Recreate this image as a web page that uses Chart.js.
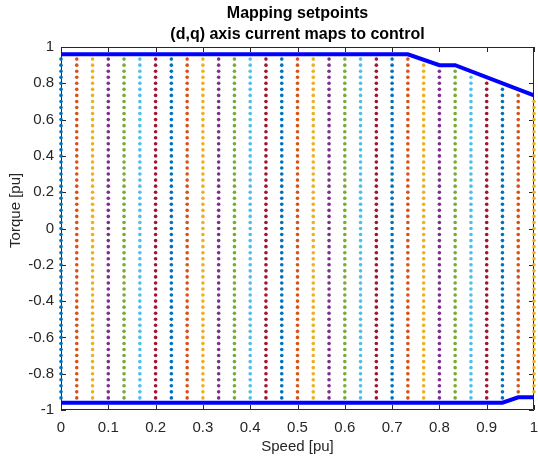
<!DOCTYPE html>
<html lang="en">
<head>
  <meta charset="UTF-8" />
  <title>Mapping setpoints</title>
  <script src="https://cdn.jsdelivr.net/npm/chart.js"></script>
  <style>
    body { margin: 0; background: #fff; }
    #wrap { width: 538px; height: 461px; }
  </style>
</head>
<body>
  <div id="wrap"><canvas id="mapChart"></canvas></div>

  <script>
    // speed columns of the (d,q) current maps [pu]
    const speeds = [0, 0.0333, 0.0667, 0.1, 0.1333, 0.1667, 0.2, 0.2333, 0.2667, 0.3,
      0.3333, 0.3667, 0.4, 0.4333, 0.4667, 0.5, 0.5333, 0.5667, 0.6, 0.6333,
      0.6667, 0.7, 0.7333, 0.7667, 0.8, 0.8333, 0.8667, 0.9, 0.9333, 0.9667, 1];

    // torque setpoint levels [pu]
    const torqueLevels = [-0.9333, -0.9, -0.8667, -0.8333, -0.8, -0.7667, -0.7333, -0.7,
      -0.6667, -0.6333, -0.6, -0.5667, -0.5333, -0.5, -0.4667, -0.4333, -0.4, -0.3667,
      -0.3333, -0.3, -0.2667, -0.2333, -0.2, -0.1667, -0.1333, -0.1, -0.0667, -0.0333, 0,
      0.0333, 0.0667, 0.1, 0.1333, 0.1667, 0.2, 0.2333, 0.2667, 0.3, 0.3333, 0.3667,
      0.4, 0.4333, 0.4667, 0.5, 0.5333, 0.5667, 0.6, 0.6333, 0.6667, 0.7, 0.7333,
      0.7667, 0.8, 0.8333, 0.8667, 0.9, 0.9333];

    // highest / lowest torque setpoint kept in each speed column
    const colMax = [0.9333, 0.9333, 0.9333, 0.9333, 0.9333, 0.9333, 0.9333, 0.9333, 0.9333, 0.9333,
      0.9333, 0.9333, 0.9333, 0.9333, 0.9333, 0.9333, 0.9333, 0.9333, 0.9333, 0.9333,
      0.9333, 0.9333, 0.9333, 0.9, 0.8667, 0.8667, 0.8333, 0.8, 0.7667, 0.7333, 0.7];
    const colMin = [-0.9333, -0.9333, -0.9333, -0.9333, -0.9333, -0.9333, -0.9333, -0.9333, -0.9333, -0.9333,
      -0.9333, -0.9333, -0.9333, -0.9333, -0.9333, -0.9333, -0.9333, -0.9333, -0.9333, -0.9333,
      -0.9333, -0.9333, -0.9333, -0.9333, -0.9333, -0.9333, -0.9333, -0.9333, -0.9333, -0.9, -0.9];

    // torque limit envelopes
    const upperSpeed = [0, 0.7333, 0.8, 0.8333, 1];
    const upperTorque = [0.96, 0.96, 0.9, 0.9, 0.7333];
    const lowerSpeed = [0, 0.9333, 0.9667, 1];
    const lowerTorque = [-0.96, -0.96, -0.93, -0.93];

    const xTicks = [0, 0.1, 0.2, 0.3, 0.4, 0.5, 0.6, 0.7, 0.8, 0.9, 1];
    const yTicks = [-1, -0.8, -0.6, -0.4, -0.2, 0, 0.2, 0.4, 0.6, 0.8, 1];

    const colorOrder = ['#0072BD', '#D95319', '#EDB120', '#7E2F8E', '#77AC30', '#4DBEEE', '#A2142F'];
    const axisColor = '#262626';
    const FONT = '"Liberation Sans", Arial, Helvetica, sans-serif';

    const datasets = [];
    datasets.push({
      type: 'line',
      data: upperSpeed.map((s, i) => ({ x: s, y: upperTorque[i] })),
      borderColor: '#0000FF', borderWidth: 4, pointRadius: 0,
      fill: false, tension: 0, order: 0
    });
    datasets.push({
      type: 'line',
      data: lowerSpeed.map((s, i) => ({ x: s, y: lowerTorque[i] })),
      borderColor: '#0000FF', borderWidth: 4, pointRadius: 0,
      fill: false, tension: 0, order: 0
    });
    speeds.forEach((s, i) => {
      const pts = torqueLevels
        .filter(t => t <= colMax[i] + 1e-6 && t >= colMin[i] - 1e-6)
        .map(t => ({ x: s, y: t }));
      datasets.push({
        type: 'scatter',
        data: pts,
        backgroundColor: colorOrder[i % colorOrder.length],
        borderWidth: 0,
        pointRadius: 1.8,
        clip: 4,
        order: 1
      });
    });

    // MATLAB style box with inward ticks on all four sides, plus the y label
    const boxTicks = {
      id: 'boxTicks',
      beforeDatasetsDraw(chart) {
        const { ctx, chartArea: a, scales: { x, y } } = chart;
        const len = 5;
        ctx.save();
        ctx.strokeStyle = axisColor;
        ctx.lineWidth = 1;
        ctx.beginPath();
        ctx.rect(a.left + 0.5, a.top + 0.5, a.right - a.left - 1, a.bottom - a.top - 1);
        xTicks.forEach(v => {
          const px = Math.round(x.getPixelForValue(v)) + 0.5;
          ctx.moveTo(px, a.bottom); ctx.lineTo(px, a.bottom - len);
          ctx.moveTo(px, a.top); ctx.lineTo(px, a.top + len);
        });
        yTicks.forEach(v => {
          const py = Math.round(y.getPixelForValue(v)) + 0.5;
          ctx.moveTo(a.left, py); ctx.lineTo(a.left + len, py);
          ctx.moveTo(a.right, py); ctx.lineTo(a.right - len, py);
        });
        ctx.stroke();

        ctx.translate(16, y.getPixelForValue(0.1));
        ctx.rotate(-Math.PI / 2);
        ctx.fillStyle = axisColor;
        ctx.font = '15px ' + FONT;
        ctx.textAlign = 'center';
        ctx.textBaseline = 'middle';
        ctx.fillText('Torque [pu]', 0, 0);
        ctx.restore();
      }
    };

    new Chart(document.getElementById('mapChart'), {
      data: { datasets },
      plugins: [boxTicks],
      options: {
        responsive: true,
        maintainAspectRatio: false,
        animation: false,
        events: [],
        layout: { padding: { left: 0, right: 1, top: 0, bottom: 0 } },
        plugins: {
          legend: { display: false },
          tooltip: { enabled: false },
          title: {
            display: true,
            fullSize: false,
            text: ['Mapping setpoints', '(d,q) axis current maps to control'],
            color: '#000',
            font: { family: FONT, size: 16, weight: 'bold', lineHeight: '21px' },
            padding: { top: 3, bottom: 2 }
          }
        },
        scales: {
          x: {
            type: 'linear',
            min: 0, max: 1,
            afterBuildTicks: s => { s.ticks = xTicks.map(v => ({ value: v })); },
            afterFit: s => { s.height = 51; s.paddingLeft = 0; s.paddingRight = 0; },
            grid: { display: false, drawTicks: false },
            border: { display: false },
            ticks: { color: axisColor, padding: 9, maxRotation: 0, autoSkip: false,
                     callback: v => String(+v.toFixed(2)),
                     font: { family: FONT, size: 15 } },
            title: { display: true, text: 'Speed [pu]', color: axisColor,
                     font: { family: FONT, size: 15 }, padding: { top: 0, bottom: 5 } }
          },
          y: {
            type: 'linear',
            min: -1, max: 1,
            afterBuildTicks: s => { s.ticks = yTicks.map(v => ({ value: v })); },
            afterFit: s => { s.width = 61; s.paddingTop = 0; s.paddingBottom = 0; },
            grid: { display: false, drawTicks: false },
            border: { display: false },
            ticks: { color: axisColor, padding: 7, autoSkip: false,
                     callback: v => String(+v.toFixed(2)),
                     font: { family: FONT, size: 15 } },
            title: { display: false }
          }
        }
      }
    });
  </script>
</body>
</html>
